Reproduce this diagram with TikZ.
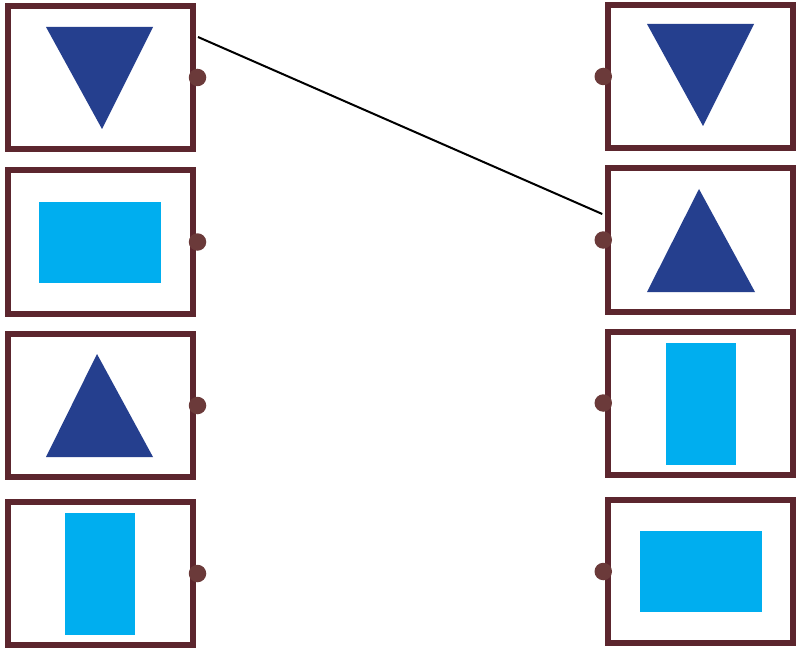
\documentclass[tikz,border=0pt]{standalone}
\usetikzlibrary{calc}
\definecolor{frame}{HTML}{5C262E}
\definecolor{dotc}{HTML}{6B3A3A}
\definecolor{tri}{HTML}{253F8E}
\definecolor{rct}{HTML}{00AEEF}
\newlength{\pxu}\setlength{\pxu}{0.75pt}
\tikzset{
  card/.style={draw=frame, line width=4.5pt, rectangle, minimum width=185\pxu, minimum height=143\pxu, inner sep=0pt, outer sep=0pt, fill=white},
  port/.style={circle, fill=dotc, minimum size=17.5\pxu, inner sep=0pt, outer sep=0pt},
  link/.style={draw=black, line width=1.5pt},
  trishape/.style={fill=tri},
  rectshape/.style={fill=rct}
}
\begin{document}
\begin{tikzpicture}[x=0.75pt, y=-0.75pt]
\useasboundingbox (0,0) rectangle (796,649);
% left column
\node[card] (L1) at (100,77.5) {};
\node[card] (L2) at (100,242) {};
\node[card] (L3) at (100,405.5) {};
\node[card] (L4) at (100,573.5) {};
% right column
\node[card] (R1) at (700.25,76.5) {};
\node[card] (R2) at (700.25,240) {};
\node[card] (R3) at (700.25,403) {};
\node[card] (R4) at (700.25,571.5) {};
% shapes
\fill[trishape] (46,27) -- (153,27) -- (102,129) -- cycle;
\fill[rectshape] (39,202) rectangle (161,283);
\fill[trishape] (97,354) -- (153,457) -- (46,457) -- cycle;
\fill[rectshape] (65,513) rectangle (135,635);
\fill[trishape] (647,24) -- (754,24) -- (703,126) -- cycle;
\fill[trishape] (699,189) -- (755,292) -- (647,292) -- cycle;
\fill[rectshape] (666,343) rectangle (736,465);
\fill[rectshape] (640,531) rectangle (762,612);
% ports
\foreach \n in {L1,L2,L3,L4} \node[port] (p\n) at ($(\n.east)+(5,0)$) {};
\foreach \n in {R1,R2,R3,R4} \node[port] (p\n) at ($(\n.west)+(-4.5,0)$) {};
% connector
\coordinate (a) at ($(L1.east)+(5.5,-40.5)$);
\coordinate (b) at ($(R2.west)+(-5.5,-26)$);
\draw[link] (a) -- (b);
\end{tikzpicture}
\end{document}
